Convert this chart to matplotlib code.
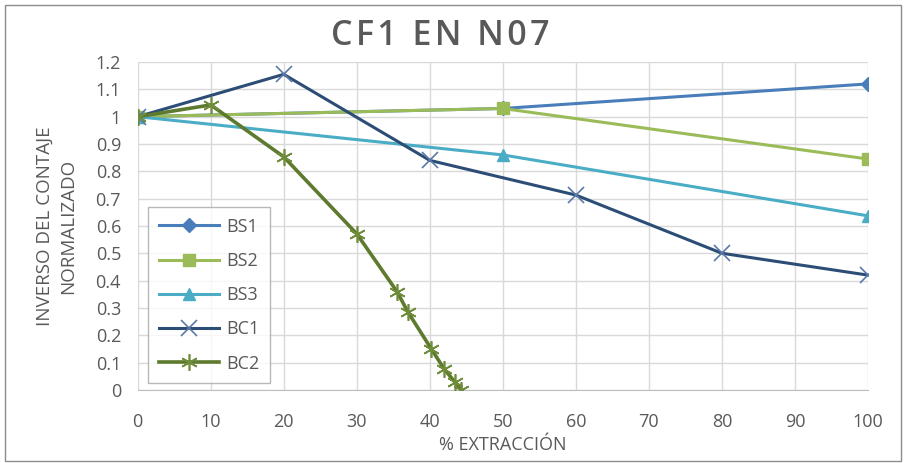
import matplotlib
matplotlib.use("Agg")
import matplotlib.pyplot as plt
from matplotlib.patches import Rectangle

plt.rcParams['font.family'] = ['Open Sans', 'DejaVu Sans']

bs1_x = [0, 50, 100]
bs1_y = [1.0, 1.03, 1.12]
bs2_x = [0, 50, 100]
bs2_y = [1.0, 1.03, 0.845]
bs3_x = [0, 50, 100]
bs3_y = [1.0, 0.86, 0.637]
bc1_x = [0, 20, 40, 60, 80, 100]
bc1_y = [1.0, 1.155, 0.84, 0.713, 0.50, 0.42]
bc2_x = [0, 10, 20, 30, 35.5, 37.0, 40.2, 42.0, 43.4, 44.3]
bc2_y = [1.0, 1.043, 0.853, 0.571, 0.36, 0.285, 0.15, 0.075, 0.03, 0.0]

xticks = list(range(0, 101, 10))
yticks = [i / 10 for i in range(0, 13)]
ytick_labels = ['0', '0.1', '0.2', '0.3', '0.4', '0.5', '0.6', '0.7', '0.8', '0.9', '1', '1.1', '1.2']
title = 'CF1 EN N07'

fig = plt.figure(figsize=(9.06, 4.63), dpi=100)
ax = fig.add_axes([0.152, 0.158, 0.806, 0.708])

fig.patches.append(Rectangle((0.006, 0.004), 0.988, 0.985, transform=fig.transFigure,
                             fill=False, edgecolor='#8c8c8c', linewidth=1.0))

ax.plot(bs1_x, bs1_y, color='#4a7ebb', lw=2.2, marker='D', ms=7, label='BS1', zorder=3)
ax.plot(bs2_x, bs2_y, color='#9bbb59', lw=2.2, marker='s', ms=8, label='BS2', zorder=3)
ax.plot(bs3_x, bs3_y, color='#4bacc6', lw=2.2, marker='^', ms=9, label='BS3', zorder=3)
ax.plot(bc1_x, bc1_y, color='#2c4d75', lw=2.2, marker='x', ms=11, mew=1.2,
        mec='#5a78a8', label='BC1', zorder=4)
ax.plot(bc2_x, bc2_y, color='#5e7a2e', lw=2.6, marker=(6, 2, 0), ms=12, mew=1.2,
        mec='#6f8c3a', label='BC2', zorder=5)

ax.set_xlim(0, 100)
ax.set_ylim(0, 1.2)
ax.set_xticks(xticks)
ax.set_yticks(yticks)
ax.set_yticklabels(ytick_labels)
ax.grid(True, color='#d9d9d9', lw=1.0, zorder=0)
ax.set_axisbelow(True)
for s in ['top', 'right', 'left']:
    ax.spines[s].set_visible(False)
ax.spines['bottom'].set_color('#bfbfbf')
ax.tick_params(length=0, labelsize=13, colors='#595959')
ax.tick_params(axis='x', pad=17)
ax.tick_params(axis='y', pad=12)

ax.set_xlabel('% EXTRACCIÓN', fontsize=13, color='#595959', labelpad=3)
ax.set_ylabel('INVERSO DEL CONTAJE\nNORMALIZADO', fontsize=13.5, color='#595959', labelpad=13,
              linespacing=1.4)
spaced_title = '\u200a'.join(title)
fig.text(0.486, 0.922, spaced_title, ha='center', va='center', fontsize=24.5,
         fontweight='semibold', color='#595959')

leg = ax.legend(loc='lower left', bbox_to_anchor=(0.002, -0.008), fontsize=13,
                frameon=True, fancybox=False, edgecolor='#a6a6a6', handlelength=3.3,
                labelspacing=0.9, borderpad=0.6, handletextpad=0.4)
leg.get_frame().set_linewidth(1.0)
for t in leg.get_texts():
    t.set_color('#595959')

fig.savefig('out.png', dpi=100)
